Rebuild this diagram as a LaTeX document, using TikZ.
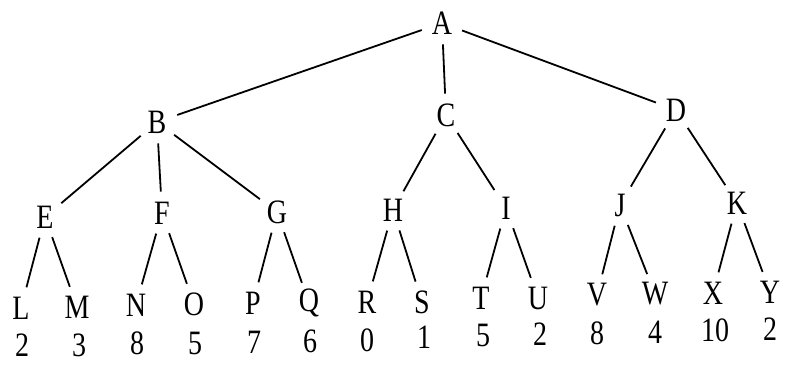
\documentclass[tikz,border=0pt]{standalone}
\usepackage{fontspec}
\setmainfont{Liberation Serif}
\newcommand{\tall}[1]{\scalebox{1}[1.22]{#1}}
\begin{document}
\begin{tikzpicture}[x=0.5pt,y=-0.5pt,
  tn/.style={circle,inner sep=0pt,minimum size=21pt,font=\fontsize{14pt}{16pt}\selectfont},
  vl/.style={inner sep=0pt,font=\fontsize{14pt}{16pt}\selectfont},
  edge/.style={line width=0.9pt}]
\useasboundingbox (0,0) rectangle (787,369);
\node[tn] (A) at (442,23) {\tall{A}};
\node[tn] (B) at (157,122) {\tall{B}};
\node[tn] (C) at (446,115) {\tall{C}};
\node[tn] (D) at (676,110) {\tall{D}};
\node[tn] (E) at (45,217) {\tall{E}};
\node[tn] (F) at (162,213) {\tall{F}};
\node[tn] (G) at (277,212) {\tall{G}};
\node[tn] (H) at (393,210) {\tall{H}};
\node[tn] (I) at (506,208) {\tall{I}};
\node[tn] (J) at (620,205) {\tall{J}};
\node[tn] (K) at (737,203) {\tall{K}};
\node[tn] (L) at (21,308) {\tall{L}};
\node[tn] (M) at (77,307) {\tall{M}};
\node[tn] (N) at (136,305) {\tall{N}};
\node[tn] (O) at (194,304) {\tall{O}};
\node[tn] (P) at (253,303) {\tall{P}};
\node[tn] (Q) at (309,303) {\tall{Q}};
\node[tn] (R) at (367,302) {\tall{R}};
\node[tn] (S) at (422,302) {\tall{S}};
\node[tn] (T) at (481,298) {\tall{T}};
\node[tn] (U) at (538,298) {\tall{U}};
\node[tn] (V) at (597,295) {\tall{V}};
\node[tn] (W) at (655,294) {\tall{W}};
\node[tn] (X) at (713,293) {\tall{X}};
\node[tn] (Y) at (770,292) {\tall{Y}};
\node[vl] (vL) at (22,345) {\tall{2}};
\node[vl] (vM) at (79,345) {\tall{3}};
\node[vl] (vN) at (137,343) {\tall{8}};
\node[vl] (vO) at (195,343) {\tall{5}};
\node[vl] (vP) at (254,342) {\tall{7}};
\node[vl] (vQ) at (310,341) {\tall{6}};
\node[vl] (vR) at (367,340) {\tall{0}};
\node[vl] (vS) at (424,337) {\tall{1}};
\node[vl] (vT) at (483,335) {\tall{5}};
\node[vl] (vU) at (540,334) {\tall{2}};
\node[vl] (vV) at (597,333) {\tall{8}};
\node[vl] (vW) at (655,332) {\tall{4}};
\node[vl] (vX) at (715,330) {\tall{10}};
\node[vl] (vY) at (770,329) {\tall{2}};
\foreach \p/\c in {A/B,A/C,A/D,B/E,B/F,B/G,C/H,C/I,D/J,D/K,E/L,E/M,F/N,F/O,G/P,G/Q,H/R,H/S,I/T,I/U,J/V,J/W,K/X,K/Y}
  \draw[edge] (\p) -- (\c);
\end{tikzpicture}
\end{document}
